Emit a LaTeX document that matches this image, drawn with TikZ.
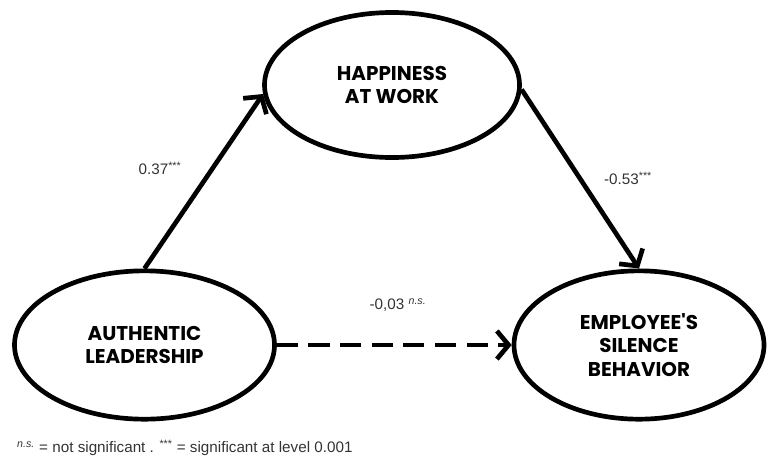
\documentclass[tikz,border=0pt]{standalone}
\usepackage{fontspec}
\setmainfont{Liberation Sans}
\newfontfamily\constructfont{Poppins}
\usepackage{tikz}
\usetikzlibrary{shapes.geometric,arrows.meta}
\tikzstyle{construct} = [ellipse, draw, line width=4pt, align=center, font=\constructfont\bfseries\fontsize{17}{20}\selectfont, minimum width=7.7cm, minimum height=4.4cm]
\tikzstyle{effect} = [line width=4pt, -{Straight Barb[length=10pt,width=24pt]}]
\tikzstyle{effectns} = [effect, dash pattern=on 18pt off 9pt]
\tikzstyle{coef} = [text=black!80, font=\fontsize{13}{15}\selectfont]

\begin{document}
\begin{tikzpicture}[x=0.03cm, y=-0.03cm]
        \useasboundingbox (0,0) rectangle (767,466);
        \node (happy) [construct, minimum width=7.65cm, minimum height=4.35cm] at (392,85) {HAPPINESS\\AT WORK};
        \node (auth) [construct, minimum width=7.8cm, minimum height=4.45cm] at (144.5,345) {AUTHENTIC\\LEADERSHIP};
        \node (silence) [construct, minimum width=7.5cm, minimum height=4.45cm] at (639,345) {EMPLOYEE'S\\SILENCE\\BEHAVIOR};
        \draw [effect] (auth.north) -- (happy.184);
        \draw [effect] (happy.-2) -- (silence.north);
        \draw [effectns] (auth.east) -- (silence.west);
        \node (a-path) [coef] at (160,168) {0.37\textsuperscript{***}};
        \node (b-path) [coef] at (628,178) {-0.53\textsuperscript{***}};
        \node (c-path) [coef] at (398,305) {-0,03 \textsuperscript{\itshape n.s.}};
        \node (legend) [coef, anchor=west, inner sep=0pt] at (17,448) {\textsuperscript{\itshape n.s.} = not significant . \textsuperscript{***} = significant at level 0.001};
    \end{tikzpicture}
\end{document}
